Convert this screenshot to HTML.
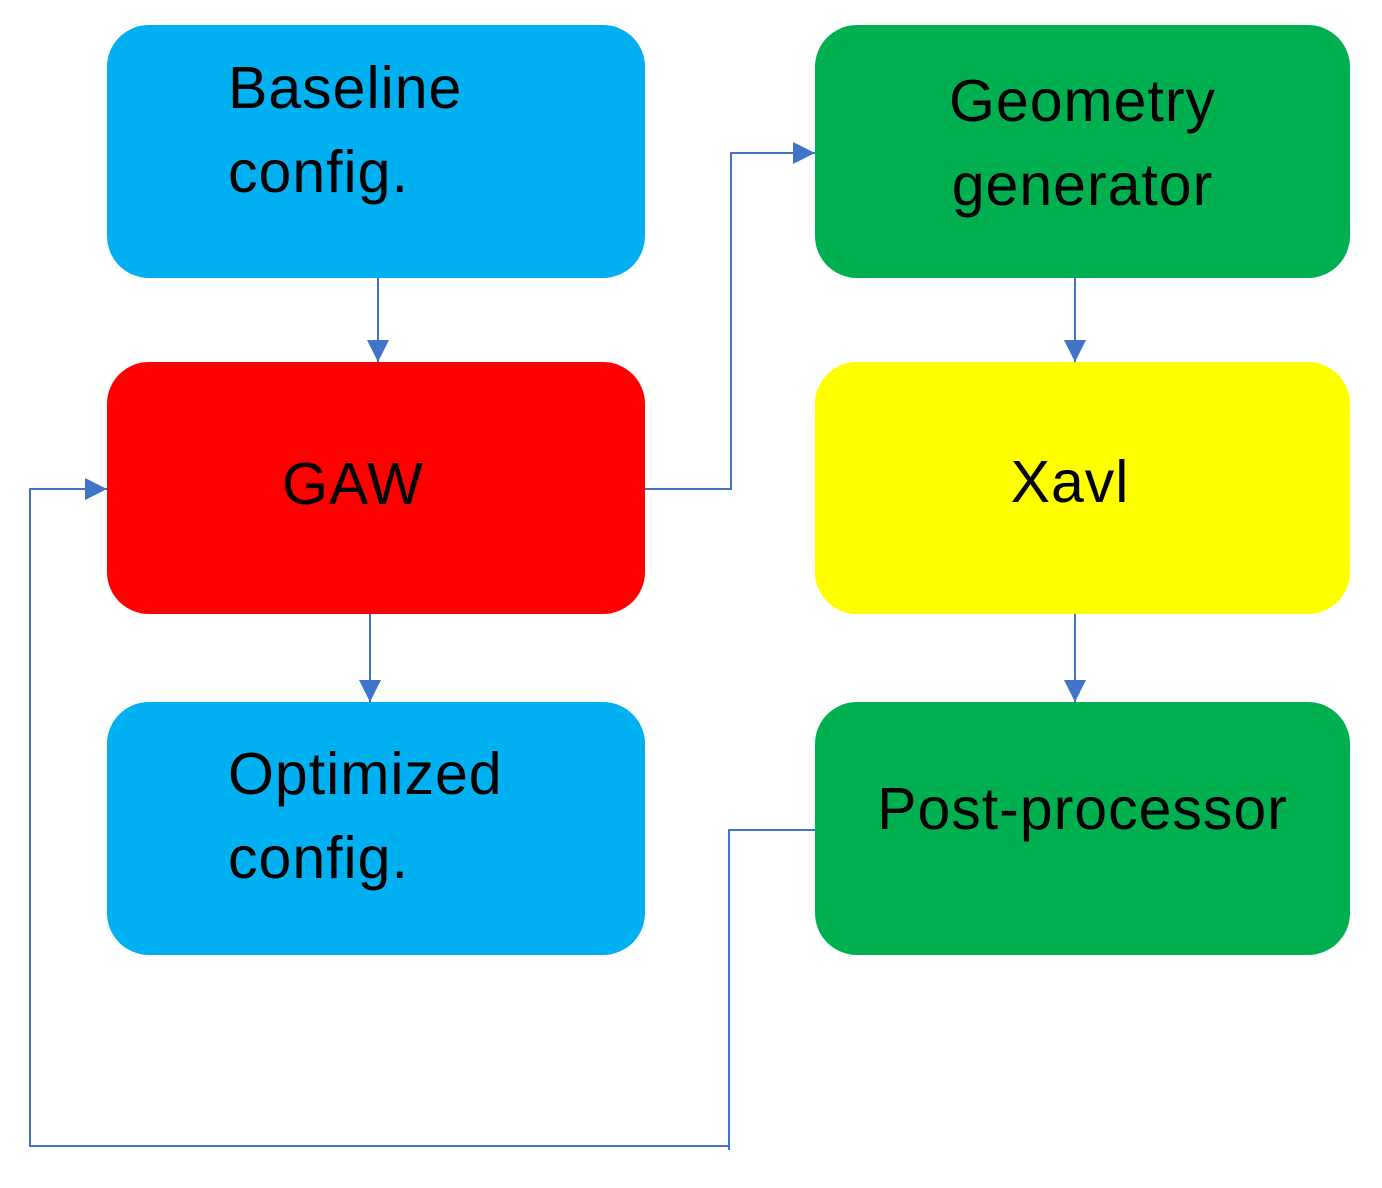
<!DOCTYPE html>
<html><head><meta charset="utf-8"><style>
html,body{margin:0;padding:0;background:#fff;}
body{width:1382px;height:1188px;position:relative;overflow:hidden;font-family:"Liberation Sans",sans-serif;}
.b{position:absolute;border-radius:42px;}
.t{position:absolute;font-size:59px;letter-spacing:1px;color:#000;line-height:84px;white-space:nowrap;}
svg{position:absolute;left:0;top:0;}
</style></head><body>
<div class="b" style="left:107px;top:25px;width:538px;height:253px;background:#00B0F0"></div>
<div class="b" style="left:107px;top:362px;width:538px;height:252px;background:#FF0000"></div>
<div class="b" style="left:107px;top:702px;width:538px;height:253px;background:#00B0F0"></div>
<div class="b" style="left:815px;top:25px;width:535px;height:253px;background:#00B050"></div>
<div class="b" style="left:815px;top:362px;width:535px;height:252px;background:#FFFF00"></div>
<div class="b" style="left:815px;top:702px;width:535px;height:253px;background:#00B050"></div>

<div class="t" style="left:228px;top:46px">Baseline<br>config.</div>
<div class="t" style="left:107px;width:492px;text-align:center;top:442px">GAW</div>
<div class="t" style="left:228px;top:732px">Optimized<br>config.</div>
<div class="t" style="left:815px;width:535px;text-align:center;top:59px">Geometry<br>generator</div>
<div class="t" style="left:815px;width:510px;text-align:center;top:440px">Xavl</div>
<div class="t" style="left:815px;width:535px;text-align:center;top:767px">Post-processor</div>

<svg width="1382" height="1188">
<defs>
<marker id="m" markerWidth="24" markerHeight="24" refX="22" refY="12" orient="auto" markerUnits="userSpaceOnUse"><path d="M0,1 L22,12 L0,23 Z" fill="#3F74C8"/></marker></defs>
<g stroke="#3F74C8" stroke-width="2" fill="none">
<path d="M378,278 V362" marker-end="url(#m)"/>
<path d="M370,614 V702" marker-end="url(#m)"/>
<path d="M645,489 H731 V153 H815" marker-end="url(#m)"/>
<path d="M1075,278 V362" marker-end="url(#m)"/>
<path d="M1075,614 V702" marker-end="url(#m)"/>
<path d="M815,830 H729 V1150"/>
<path d="M729,1146 H30 V489 H107" marker-end="url(#m)"/>
</g>
</svg>
</body></html>
